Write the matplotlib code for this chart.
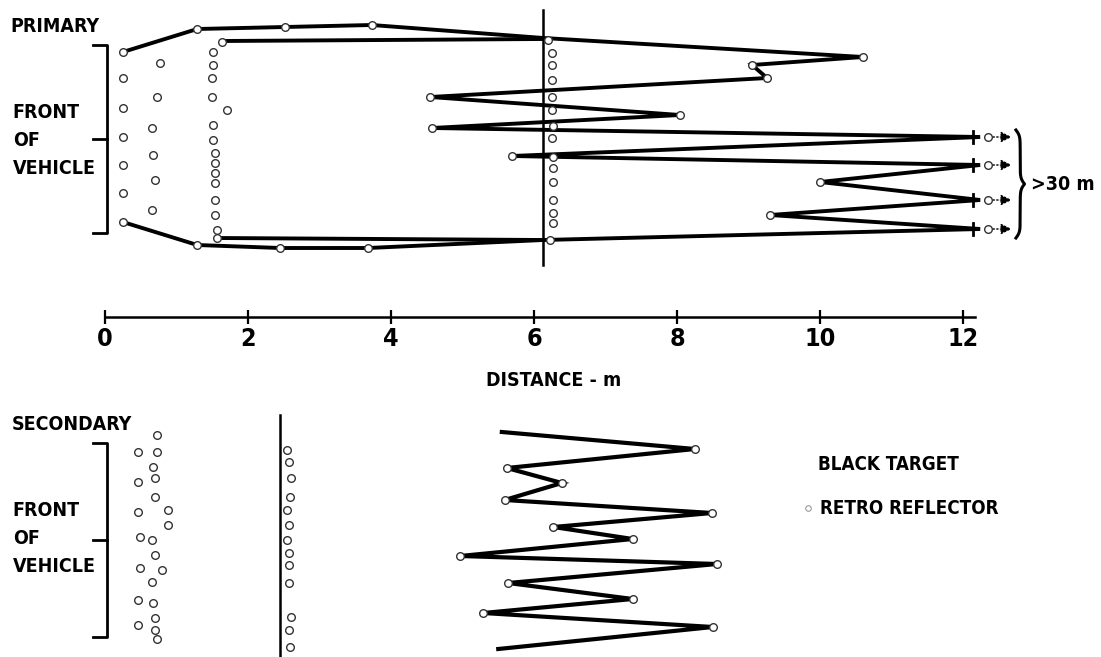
import numpy as np
import matplotlib
matplotlib.use("Agg")
import matplotlib.pyplot as plt

plt.rcParams['font.family'] = ['DejaVu Sans']
plt.rcParams['font.stretch'] = 'condensed'
plt.rcParams['font.weight'] = 'bold'

# distance scale (m)
dist_ticks = [0, 2, 4, 6, 8, 10, 12]
dist_end = 12.17

# ---- PRIMARY beam ----
# black target path: distance (m), lateral row
prim_target_x = [0.25, 1.29, 2.52, 3.73, 6.13, 10.6, 9.05, 9.26, 4.55, 8.04, 4.57,
                 12.24, 5.69, 12.24, 10.0, 12.24, 9.3, 12.24, 6.13, 3.68, 2.45, 1.29, 0.25]
prim_target_y = [52, 29, 27, 25, 38, 57, 65, 78, 97, 115, 128,
                 137, 156, 165, 182, 200, 215, 229, 240, 248, 248, 245, 222]
prim_inner_top_x = [1.64, 6.13]
prim_inner_top_y = [41, 39]
prim_inner_bot_x = [1.57, 6.13]
prim_inner_bot_y = [238, 240]

# open circles at path vertices
prim_vert_x = [1.29, 2.52, 3.73, 10.6, 9.05, 9.26, 4.55, 8.04, 4.57, 5.69, 10.0, 9.3,
               1.29, 2.45, 3.68]
prim_vert_y = [29, 27, 25, 57, 65, 78, 97, 115, 128, 156, 182, 215, 245, 248, 248]

# rays beyond the scale (>30 m)
far_rows = [137, 165, 200, 229]

# retro reflector positions, primary
prim_retro_x = ([0.25] * 7
                + [0.77, 0.73, 0.66, 0.67, 0.70, 0.66]
                + [1.64, 1.51, 1.51, 1.50, 1.50, 1.71, 1.51, 1.51, 1.54, 1.54, 1.54,
                   1.54, 1.54, 1.54, 1.57, 1.57]
                + [6.20, 6.25, 6.25, 6.25, 6.25, 6.25, 6.27, 6.25, 6.27, 6.27, 6.27,
                   6.27, 6.27, 6.27, 6.22])
prim_retro_y = ([52, 78, 108, 137, 165, 193, 222]
                + [63, 97, 128, 155, 180, 210]
                + [42, 52, 65, 78, 97, 110, 125, 140, 153, 163, 173, 183, 200, 215, 230, 238]
                + [40, 53, 65, 80, 97, 110, 126, 138, 157, 168, 182, 200, 213, 223, 240])
prim_ref_line = 6.13

# ---- SECONDARY beam ----
sec_target_x = [5.55, 8.25, 5.62, 6.39, 5.59, 8.49, 6.27, 7.38, 4.97, 8.56, 5.64,
                7.38, 5.29, 8.50, 5.50]
sec_target_y = [432, 449, 468, 483, 500, 513, 527, 539, 556, 564, 583,
                599, 613, 627, 649]
sec_retro_x = ([0.73, 0.46, 0.73, 0.67, 0.46, 0.70, 0.70, 0.46, 0.88, 0.88, 0.49,
                0.66, 0.70, 0.49, 0.80, 0.66, 0.46, 0.67, 0.70, 0.46, 0.70, 0.73]
               + [2.55, 2.57, 2.60, 2.59, 2.55, 2.57, 2.55, 2.57, 2.57, 2.57, 2.60,
                  2.57, 2.59])
sec_retro_y = ([435, 452, 452, 467, 482, 478, 497, 512, 510, 525, 537,
                540, 555, 568, 570, 582, 600, 603, 618, 625, 630, 639]
               + [450, 462, 478, 497, 510, 525, 540, 553, 565, 583, 617, 630, 647])
sec_ref_line = 2.45

W, H = 1101, 657
px0, ppm = 105, 71.5
xlim = (-px0 / ppm, (W - px0) / ppm)

fig = plt.figure(figsize=(W / 100, H / 100), dpi=100)
ax = fig.add_axes([0, 0, 1, 1])
ax.set_xlim(*xlim)
ax.set_ylim(H, 0)
ax.axis('off')

circ = dict(ls='none', marker='o', ms=5.5, mfc='white', mec='#333333', mew=1.0, zorder=4)

# primary
ax.plot(prim_target_x, prim_target_y, color='black', lw=2.8, solid_joinstyle='miter', zorder=2)
ax.plot(prim_inner_top_x, prim_inner_top_y, color='black', lw=2.8, zorder=2)
ax.plot(prim_inner_bot_x, prim_inner_bot_y, color='black', lw=2.8, zorder=2)
ax.plot(prim_vert_x, prim_vert_y, **circ)
ax.plot(prim_retro_x, prim_retro_y, **circ)
ax.plot([prim_ref_line, prim_ref_line], [10, 265], color='black', lw=1.8, zorder=1)

for r in far_rows:
    ax.plot([12.14, 12.14], [r - 6, r + 6], color='black', lw=2, zorder=3)
    ax.plot([12.35], [r], **circ)
    ax.annotate('', xy=(12.68, r), xytext=(12.42, r),
                arrowprops=dict(arrowstyle='-|>', lw=1, ls=':', color='black',
                                mutation_scale=16, shrinkA=0, shrinkB=0))


def brace(x, y0, y1, w, beta=0.35):
    n = 201
    yy = np.linspace(y0, y1, n)
    h = yy[:n // 2 + 1]
    b = 1 / (1 + np.exp(-beta * (h - h[0]))) + 1 / (1 + np.exp(-beta * (h - h[-1])))
    b = np.concatenate((b, b[-2::-1])) - 0.5
    ax.plot(x + b * w, yy, color='black', lw=2.2)


brace(12.74, 130, 238, 0.12)
ax.text(12.95, 184, '>30 m', fontsize=14, va='center', ha='left')

# left brackets and labels
def bracket(y0, y1):
    ym = (y0 + y1) / 2
    ax.plot([-0.17, 0.03, 0.03, -0.17], [y0, y0, y1, y1], color='black', lw=2)
    ax.plot([-0.17, 0.03], [ym, ym], color='black', lw=2)


bracket(45, 233)
bracket(443, 637)
lab = dict(fontsize=14, ha='left', va='center')
ax.text(-1.33, 27, 'PRIMARY', **lab)
ax.text(-1.30, 425, 'SECONDARY', **lab)
for base in (113, 510):
    ax.text(-1.29, base, 'FRONT', **lab)
    ax.text(-1.29, base + 28, 'OF', **lab)
    ax.text(-1.29, base + 56, 'VEHICLE', **lab)

# secondary
ax.plot(sec_target_x, sec_target_y, color='black', lw=3, solid_joinstyle='miter', zorder=2)
ax.plot(sec_target_x[1:-1], sec_target_y[1:-1], **circ)
ax.plot(sec_retro_x, sec_retro_y, **circ)
ax.plot([sec_ref_line, sec_ref_line], [415, 657], color='black', lw=1.8, zorder=1)

# legend
ax.text(9.97, 465, 'BLACK TARGET', fontsize=13.5, ha='left', va='center')
ax.plot([9.83], [508], ls='none', marker='o', ms=4, mfc='white', mec='#999999', mew=0.8)
ax.text(10.0, 508, 'RETRO REFLECTOR', fontsize=13.5, ha='left', va='center')

# distance scale
sc = fig.add_axes([0, 1 - 317 / H, 1, 1e-4])
sc.set_xlim(*xlim)
sc.patch.set_alpha(0)
for s in ('top', 'left', 'right'):
    sc.spines[s].set_visible(False)
sc.spines['bottom'].set_bounds(0, dist_end)
sc.spines['bottom'].set_linewidth(1.8)
sc.set_yticks([])
sc.set_xticks(dist_ticks)
sc.set_xticklabels([str(t) for t in dist_ticks], fontsize=18, fontweight='bold')
sc.tick_params(axis='x', direction='inout', length=10, width=1.6, pad=2)
ax.text(6.27, 381, 'DISTANCE - m', fontsize=14, ha='center', va='center')

fig.savefig('out.png', dpi=100)
